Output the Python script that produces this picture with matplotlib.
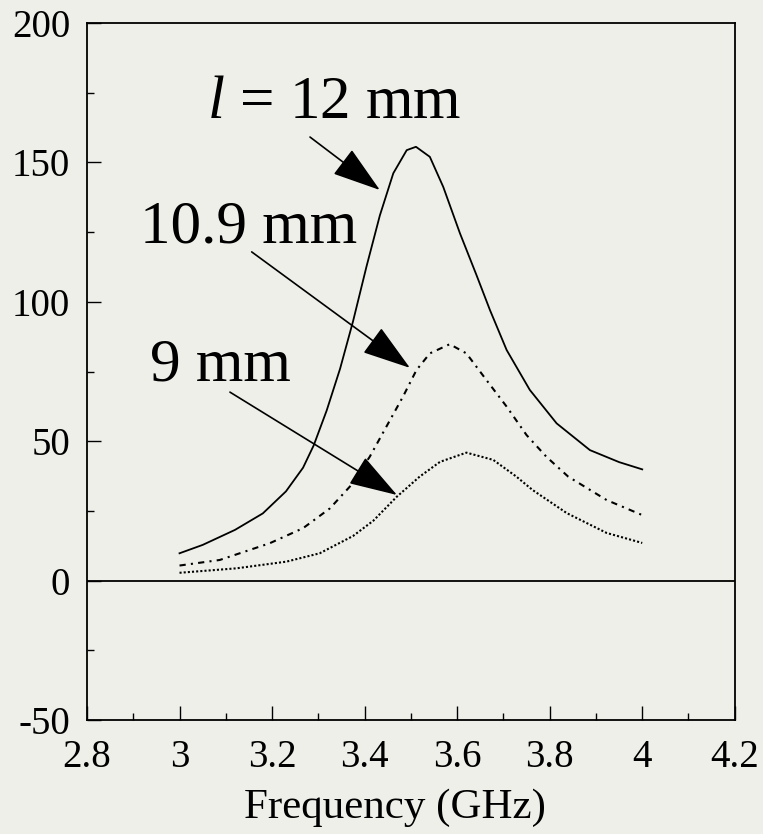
import matplotlib
matplotlib.use("Agg")
import matplotlib.pyplot as plt
from matplotlib.ticker import MultipleLocator

plt.rcParams['font.family'] = ['Liberation Serif', 'DejaVu Serif']
plt.rcParams['mathtext.fontset'] = 'custom'
plt.rcParams['mathtext.rm'] = 'Liberation Serif'
plt.rcParams['mathtext.it'] = 'Liberation Serif:italic'

# Data
freq_12 = [3.0, 3.05, 3.12, 3.18, 3.23, 3.267, 3.29, 3.318, 3.347, 3.375, 3.404, 3.433,
           3.462, 3.491, 3.511, 3.541, 3.570, 3.606, 3.642, 3.671, 3.707, 3.757, 3.815,
           3.887, 3.95, 4.0]
val_12 = [9.8, 12.8, 18.2, 24.1, 32.0, 40.5, 48.5, 61.0, 76.0, 93.0, 112.6, 131.0,
          146.1, 154.4, 155.6, 152.0, 141.2, 124.6, 109.5, 97.0, 82.7, 68.4, 56.4,
          46.8, 42.5, 39.9]

freq_109 = [3.0, 3.087, 3.195, 3.267, 3.325, 3.368, 3.411, 3.455, 3.483, 3.512, 3.541,
            3.584, 3.620, 3.663, 3.707, 3.750, 3.793, 3.840, 3.923, 4.0]
val_109 = [5.4, 7.4, 13.4, 18.8, 25.9, 33.7, 44.4, 57.6, 66.0, 75.5, 81.5,
           84.8, 81.5, 72.0, 62.4, 52.2, 44.4, 37.3, 28.9, 23.5]

freq_9 = [3.0, 3.123, 3.231, 3.303, 3.375, 3.419, 3.469, 3.519, 3.563, 3.620, 3.678,
          3.728, 3.763, 3.837, 3.923, 4.0]
val_9 = [2.8, 4.4, 6.8, 9.8, 16.0, 21.5, 30.0, 37.3, 42.6, 45.9, 43.3,
         37.3, 32.5, 24.2, 17.1, 13.5]

x_ticks = [2.8, 3.0, 3.2, 3.4, 3.6, 3.8, 4.0, 4.2]
x_tick_labels = ['2.8', '3', '3.2', '3.4', '3.6', '3.8', '4', '4.2']
y_ticks = [-50, 0, 50, 100, 150, 200]
y_tick_labels = ['-50', '0', '50', '100', '150', '200']

labels = [r'$l$ = 12 mm', '10.9 mm', '9 mm']
label_pos = [(3.059, 165.9), (2.915, 121.1), (2.936, 71.9)]
arrow_tails = [(3.282, 159.1), (3.156, 117.9), (3.109, 67.6)]
arrow_tips = [(3.433, 140.1), (3.498, 76.3), (3.470, 30.7)]

bg = '#efefea'
fig = plt.figure(figsize=(7.63, 8.34), dpi=100, facecolor=bg)
ax = fig.add_axes([0.114, 0.1367, 0.849, 0.8357], facecolor=bg)

ax.plot(freq_12, val_12, color='black', lw=1.3, solid_joinstyle='round')
ax.plot(freq_109, val_109, color='black', lw=1.5, linestyle=(0, (3, 2.5, 1, 2.5)))
ax.plot(freq_9, val_9, color='black', lw=1.5, linestyle=(0, (1, 1)))
ax.axhline(0, color='black', lw=1.3)

for txt, (tx, ty) in zip(labels, label_pos):
    ax.text(tx, ty, txt, fontsize=44, ha='left', va='baseline')
for (x0, y0), (x1, y1) in zip(arrow_tails, arrow_tips):
    ax.annotate('', xy=(x1, y1), xytext=(x0, y0),
                arrowprops=dict(arrowstyle='-|>,head_length=1.4,head_width=0.45',
                                mutation_scale=22, color='black', lw=1.2,
                                shrinkA=0, shrinkB=0))

ax.set_xlim(2.8, 4.2)
ax.set_ylim(-50, 200)
ax.set_xticks(x_ticks)
ax.set_xticklabels(x_tick_labels)
ax.set_yticks(y_ticks)
ax.set_yticklabels(y_tick_labels)
ax.xaxis.set_minor_locator(MultipleLocator(0.1))
ax.yaxis.set_minor_locator(MultipleLocator(25))
ax.tick_params(which='major', direction='in', length=10, width=1, labelsize=28)
ax.tick_params(which='minor', direction='in', length=5, width=1)
ax.tick_params(axis='x', which='major', pad=14)
ax.tick_params(axis='y', which='major', pad=12)
for s in ax.spines.values():
    s.set_linewidth(1.3)
ax.set_xlabel('Frequency (GHz)', fontsize=31, labelpad=9)
ax.xaxis.label.set_x(0.476)

fig.savefig('out.png', dpi=100, facecolor=bg)
